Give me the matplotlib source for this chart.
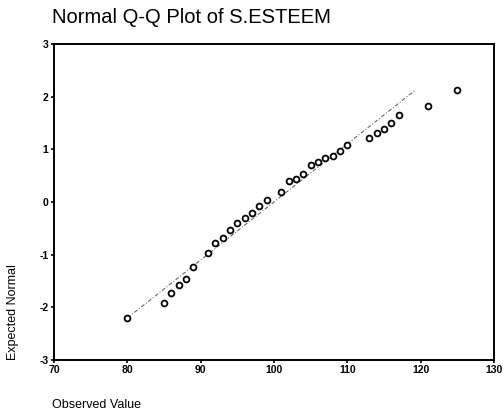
import numpy as np
import matplotlib
matplotlib.use("Agg")
import matplotlib.pyplot as plt

plt.rcParams['font.family'] = ['Liberation Sans', 'DejaVu Sans']
plt.rcParams['axes.unicode_minus'] = False

# observed S.ESTEEM scores and their expected normal values
observed = [80, 85, 86, 87, 88, 89, 91, 92, 93, 94, 95, 96, 97, 98, 99,
            101, 102, 103, 104, 105, 106, 107, 108, 109, 110,
            113, 114, 115, 116, 117, 121, 125]
expected = [-2.20, -1.91, -1.73, -1.57, -1.46, -1.24, -0.97, -0.77, -0.68,
            -0.53, -0.40, -0.30, -0.21, -0.08, 0.04, 0.19, 0.40, 0.43, 0.54,
            0.70, 0.76, 0.83, 0.87, 0.96, 1.09, 1.22, 1.31, 1.39, 1.51,
            1.65, 1.83, 2.12]
ref_mean = 100.0
ref_sd = 9.07

x_ticks = [70, 80, 90, 100, 110, 120, 130]
y_ticks = [-3, -2, -1, 0, 1, 2, 3]

fig = plt.figure(figsize=(5.04, 4.2), dpi=100)
ax = fig.add_axes([0.107, 0.143, 0.873, 0.752])

# reference line across the range of expected values
ey = np.array([min(expected), max(expected)])
ax.plot(ref_mean + ref_sd * ey, ey, color='#555555', linestyle=(0, (4, 2, 1, 2)),
        linewidth=0.7)

ax.plot(observed, expected, linestyle='none', marker='o', markersize=4.2,
        markerfacecolor='white', markeredgecolor='black', markeredgewidth=1.3)

ax.set_xlim(70, 130)
ax.set_ylim(-3, 3)
ax.set_xticks(x_ticks)
ax.set_yticks(y_ticks)
ax.tick_params(direction='out', length=2, width=1.2, labelsize=7.5, pad=2)
for lbl in ax.get_xticklabels() + ax.get_yticklabels():
    lbl.set_fontweight('bold')
for sp in ax.spines.values():
    sp.set_linewidth(1.4)

fig.text(0.103, 0.958, 'Normal Q-Q Plot of S.ESTEEM', fontsize=14.5,
         ha='left', va='center')
fig.text(0.103, 0.036, 'Observed Value', fontsize=9, ha='left', va='center')
fig.text(0.025, 0.143, 'Expected Normal', fontsize=9, rotation=90,
         ha='center', va='bottom')

fig.savefig('out.png', dpi=100)
